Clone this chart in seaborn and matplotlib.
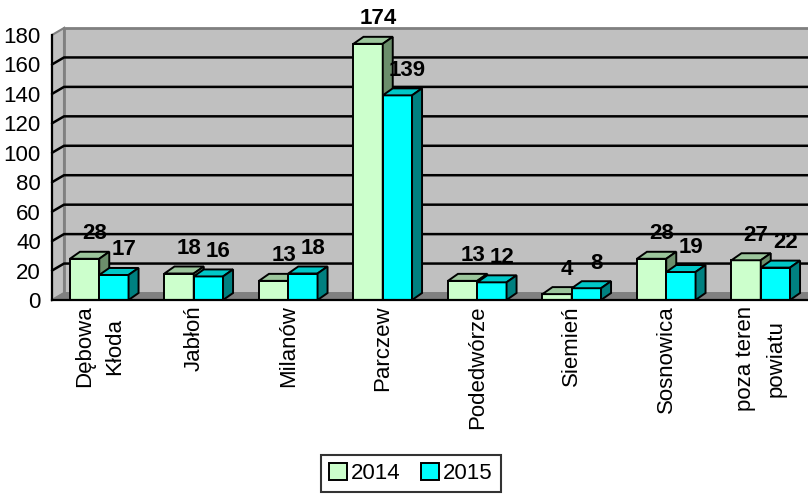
import numpy as np
import pandas as pd
import matplotlib
matplotlib.use("Agg")
import matplotlib.pyplot as plt
import seaborn as sns
from matplotlib.patches import Polygon, Patch
from matplotlib.lines import Line2D
from matplotlib.transforms import IdentityTransform

# --- data ---
categories = ["Dębowa\nKłoda", "Jabłoń", "Milanów", "Parczew",
              "Podedwórze", "Siemień", "Sosnowica", "poza teren\npowiatu"]
years = ["2014", "2015"]
values_2014 = [28, 18, 13, 174, 13, 4, 28, 27]
values_2015 = [17, 16, 18, 139, 12, 8, 19, 22]
y_ticks = [0, 20, 40, 60, 80, 100, 120, 140, 160, 180]

front_colors = ["#CCFFCC", "#00FFFF"]
top_colors = ["#9CC69C", "#00C8C8"]
side_colors = ["#6B8E6B", "#008080"]

df = pd.DataFrame({
    "gmina": categories * 2,
    "rok": [years[0]] * len(categories) + [years[1]] * len(categories),
    "liczba": values_2014 + values_2015,
})

sns.set_style("white")
plt.rcParams["font.family"] = ["Liberation Sans", "DejaVu Sans"]
plt.rcParams["text.color"] = "black"
plt.rcParams["xtick.color"] = "black"
plt.rcParams["ytick.color"] = "black"
FS = 16

W, H = 808, 494
fig = plt.figure(figsize=(W / 100, H / 100), dpi=100)
ax = fig.add_axes([52 / W, (H - 300) / H, (808 - 52) / W, (300 - 35) / H])
ax.patch.set_visible(False)

sns.barplot(data=df, x="gmina", y="liczba", hue="rok", palette=front_colors,
            width=0.62, edgecolor="black", linewidth=1.4, saturation=1,
            legend=False, ax=ax)

ax.set_xlim(-0.5, len(categories) - 0.5)
ax.set_ylim(0, 180)
ax.set_xlabel("")
ax.set_ylabel("")

# axes / ticks
for s in ["top", "right"]:
    ax.spines[s].set_visible(False)
for s in ["left", "bottom"]:
    ax.spines[s].set_color("black")
    ax.spines[s].set_linewidth(1.6)
ax.set_yticks(y_ticks)
ax.set_yticklabels([str(t) for t in y_ticks], fontsize=FS, color="black")
ax.tick_params(axis="y", direction="out", length=6, width=1.5, pad=2, color="black")
ax.set_xticks(range(len(categories)))
ax.set_xticklabels(categories, rotation=90, fontsize=FS, va="top", ha="center",
                   multialignment="center", color="black", linespacing=1.55)
ax.tick_params(axis="x", which="major", length=0, pad=4)
ax.set_xticks(np.arange(-0.5, len(categories), 1), minor=True)
ax.tick_params(axis="x", which="minor", direction="out", length=6, width=1.5, color="black")

# --- 3D walls, floor and grid (in pixels) ---
to_px = ax.transData.transform
x0, y0 = to_px((-0.5, 0))
x1, y1 = to_px((len(categories) - 0.5, 180))
dx, dy = 12, 7
ident = IdentityTransform()

left_wall = Polygon([(x0, y0), (x0, y1), (x0 + dx, y1 + dy), (x0 + dx, y0 + dy)],
                    closed=True, facecolor="#C0C0C0", edgecolor="#808080", lw=1.5,
                    transform=ident, clip_on=False, zorder=0.5)
back_wall = Polygon([(x0 + dx, y0 + dy), (x0 + dx, y1 + dy), (x1 + dx + 20, y1 + dy),
                     (x1 + dx + 20, y0 + dy)],
                    closed=True, facecolor="#C0C0C0", edgecolor="#808080", lw=2,
                    transform=ident, clip_on=False, zorder=0.5)
floor = Polygon([(x0, y0), (x1 + 20, y0), (x1 + dx + 20, y0 + dy), (x0 + dx, y0 + dy)],
                closed=True, facecolor="#808080", edgecolor="#808080", lw=1,
                transform=ident, clip_on=False, zorder=0.6)
for p in [left_wall, back_wall, floor]:
    ax.add_patch(p)

for v in y_ticks[1:-1]:
    gy = to_px((0, v))[1]
    ax.add_line(Line2D([x0, x0 + dx, x1 + dx + 20], [gy, gy + dy, gy + dy],
                       color="black", lw=1.8, transform=ident, clip_on=False,
                       zorder=0.7))

# --- 3D bar faces ---
bdx, bdy = 10, 7
k = 0
for i in range(len(categories)):
    for h, cont in enumerate(ax.containers):
        bar = cont[i]
        (bx0, by0), (bx1, by1) = to_px([(bar.get_x(), 0),
                                        (bar.get_x() + bar.get_width(), bar.get_height())])
        z = 2 + 0.01 * k
        bar.set_zorder(z)
        top = Polygon([(bx0, by1), (bx1, by1), (bx1 + bdx, by1 + bdy), (bx0 + bdx, by1 + bdy)],
                      closed=True, facecolor=top_colors[h], edgecolor="black", lw=1.4,
                      transform=ident, clip_on=False, zorder=z)
        side = Polygon([(bx1, by0), (bx1, by1), (bx1 + bdx, by1 + bdy), (bx1 + bdx, by0 + bdy)],
                       closed=True, facecolor=side_colors[h], edgecolor="black", lw=1.4,
                       transform=ident, clip_on=False, zorder=z)
        ax.add_patch(top)
        ax.add_patch(side)
        ax.annotate(str(int(bar.get_height())),
                    xy=(bar.get_x() + bar.get_width() / 2, bar.get_height()),
                    xytext=(10, 25), textcoords="offset pixels",
                    ha="center", va="center", fontsize=FS, fontweight="bold",
                    color="black", zorder=10)
        k += 1

handles = [Patch(facecolor=c, edgecolor="black", linewidth=1.4) for c in front_colors]
leg = fig.legend(handles, years, loc="lower center", bbox_to_anchor=(411 / W, -9 / H),
                 ncol=2, frameon=True, fancybox=False, edgecolor="black",
                 handlelength=0.8, handleheight=0.8, handletextpad=0.2,
                 columnspacing=0.9, borderpad=0.35, fontsize=FS)
leg.get_frame().set_linewidth(1.5)

fig.savefig("out.png", dpi=100)
